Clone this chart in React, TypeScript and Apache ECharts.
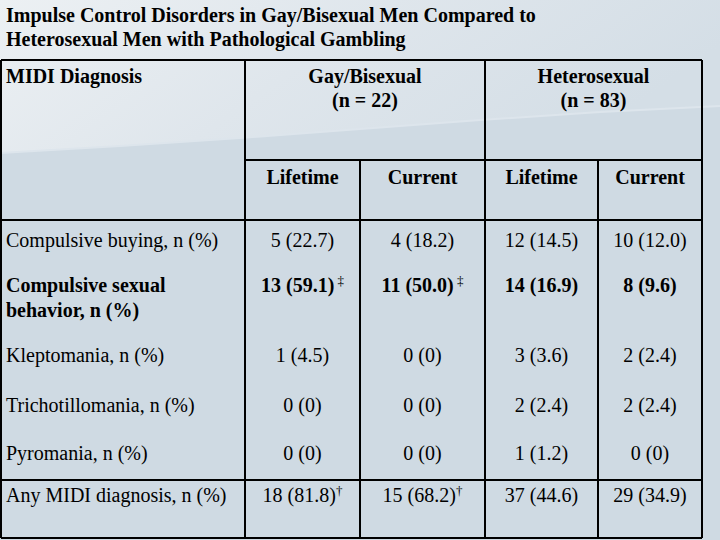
import React, { useEffect, useRef } from "react";
import * as echarts from "echarts";

const titleLines = [
  "Impulse Control Disorders in Gay/Bisexual Men Compared to",
  "Heterosexual Men with Pathological Gambling",
];
const firstHeader = "MIDI Diagnosis";
const groupHeaders = ["Gay/Bisexual", "Heterosexual"];
const groupNs = ["(n = 22)", "(n = 83)"];
const subHeaders = ["Lifetime", "Current", "Lifetime", "Current"];

const rowLabels = [
  ["Compulsive buying, n (%)"],
  ["Compulsive sexual", "behavior, n (%)"],
  ["Kleptomania, n (%)"],
  ["Trichotillomania, n (%)"],
  ["Pyromania, n (%)"],
  ["Any MIDI diagnosis, n (%)"],
];
const rowBold = [false, true, false, false, false, false];

const gayLifetimeN = [5, 13, 1, 0, 0, 18];
const gayLifetimePct = [22.7, 59.1, 4.5, 0, 0, 81.8];
const gayCurrentN = [4, 11, 0, 0, 0, 15];
const gayCurrentPct = [18.2, 50.0, 0, 0, 0, 68.2];
const hetLifetimeN = [12, 14, 3, 2, 1, 37];
const hetLifetimePct = [14.5, 16.9, 3.6, 2.4, 1.2, 44.6];
const hetCurrentN = [10, 8, 2, 2, 0, 29];
const hetCurrentPct = [12.0, 9.6, 2.4, 2.4, 0, 34.9];

const gayLifetimeMark = ["", " ‡", "", "", "", "†"];
const gayCurrentMark = ["", " ‡", "", "", "", "†"];
const hetLifetimeMark = ["", "", "", "", "", ""];
const hetCurrentMark = ["", "", "", "", "", ""];

const fmt = (n: number, p: number) => `${n} (${p === 0 ? "0" : p.toFixed(1)})`;

export default function App() {
  const ref = useRef<HTMLDivElement>(null);
  useEffect(() => {
    if (!ref.current) return;
    const chart = echarts.init(ref.current, undefined, { renderer: "svg" });
    const FONT = "'Liberation Serif', 'Times New Roman', serif";
    const FS = 20;
    const els: any[] = [];

    // background
    els.push({
      type: "rect",
      shape: { x: 0, y: 0, width: 720, height: 540 },
      style: { fill: "#cfdae3" },
      z: 0,
    });
    els.push({
      type: "polygon",
      shape: {
        points: [
          [0, 0], [720, 0], [720, 106], [600, 112], [480, 120], [360, 129],
          [240, 138], [120, 146], [0, 153],
        ],
      },
      style: {
        fill: new echarts.graphic.LinearGradient(0, 0, 1, 0.3, [
          { offset: 0, color: "#ecf0f3" },
          { offset: 0.5, color: "#dfe6ec" },
          { offset: 1, color: "#d4dee6" },
        ]),
      },
      z: 1,
    });
    els.push({
      type: "polyline",
      shape: {
        points: [
          [0, 153], [120, 146], [240, 138], [360, 129], [480, 120], [600, 112], [720, 106],
        ],
      },
      style: { stroke: "#dde5ec", lineWidth: 2, fill: "none" },
      z: 1,
    });

    // title
    titleLines.forEach((t, i) => {
      els.push({
        type: "text",
        x: 6,
        y: 15 + i * 24,
        style: {
          text: t,
          font: `bold ${FS}px ${FONT}`,
          fill: "#000",
          textVerticalAlign: "middle",
          textAlign: "left",
        },
        z: 5,
      });
    });

    const colX = [1, 245, 360, 485, 598, 702];
    const top = 60, hdr1 = 160, hdr2 = 220, anyTop = 480, bottom = 538;
    const LW = 2;
    const line = (x1: number, y1: number, x2: number, y2: number) =>
      els.push({
        type: "line",
        shape: { x1, y1, x2, y2 },
        style: { stroke: "#000", lineWidth: LW },
        z: 4,
      });
    line(colX[0], top, colX[5], top);
    line(colX[1], hdr1, colX[5], hdr1);
    line(colX[0], hdr2, colX[5], hdr2);
    line(colX[0], anyTop, colX[5], anyTop);
    line(colX[0], bottom, colX[5], bottom);
    line(colX[0], top, colX[0], bottom);
    line(colX[1], top, colX[1], bottom);
    line(colX[3], top, colX[3], bottom);
    line(colX[5], top, colX[5], bottom);
    line(colX[2], hdr1, colX[2], bottom);
    line(colX[4], hdr1, colX[4], bottom);

    const txt = (x: number, y: number, text: string, bold: boolean, align: string) =>
      els.push({
        type: "text",
        x,
        y,
        style: {
          text,
          font: `${bold ? "bold " : ""}${FS}px ${FONT}`,
          fill: "#000",
          textAlign: align,
          textVerticalAlign: "middle",
        },
        z: 5,
      });

    txt(6, 76, firstHeader, true, "left");
    groupHeaders.forEach((g, i) => {
      const cx = (colX[1 + i * 2] + colX[3 + i * 2]) / 2;
      txt(cx, 76, g, true, "center");
      txt(cx, 100, groupNs[i], true, "center");
    });
    subHeaders.forEach((s, i) => {
      const cx = (colX[1 + i] + colX[2 + i]) / 2;
      txt(cx, 177, s, true, "center");
    });

    const rowY = [240, 285, 355, 405, 453, 495];
    const cols = [
      [gayLifetimeN, gayLifetimePct, gayLifetimeMark],
      [gayCurrentN, gayCurrentPct, gayCurrentMark],
      [hetLifetimeN, hetLifetimePct, hetLifetimeMark],
      [hetCurrentN, hetCurrentPct, hetCurrentMark],
    ] as any[];
    rowLabels.forEach((lab, r) => {
      lab.forEach((l, k) => txt(6, rowY[r] + k * 25, l, rowBold[r], "left"));
      cols.forEach((c, ci) => {
        const cx = (colX[1 + ci] + colX[2 + ci]) / 2;
        const main = fmt(c[0][r], c[1][r]);
        const mark = c[2][r];
        const weight = rowBold[r] ? "bold" : "normal";
        if (mark) {
          els.push({
            type: "text",
            x: cx,
            y: rowY[r],
            style: {
              text: `{m|${main}}{s|${mark}}`,
              textAlign: "center",
              textVerticalAlign: "middle",
              rich: {
                m: { fontFamily: FONT, fontSize: FS, fontWeight: weight, color: "#000" },
                s: { fontFamily: FONT, fontSize: 13, fontWeight: "normal", color: "#000", verticalAlign: "top", padding: [0, 0, 9, 0] },
              },
            },
            z: 5,
          });
        } else {
          txt(cx, rowY[r], main, rowBold[r], "center");
        }
      });
    });

    chart.setOption({
      animation: false,
      graphic: { elements: els },
    });
    return () => chart.dispose();
  }, []);
  return (
    <div
      ref={ref}
      style={{ position: "absolute", left: 0, top: 0, width: 720, height: 540 }}
    />
  );
}
